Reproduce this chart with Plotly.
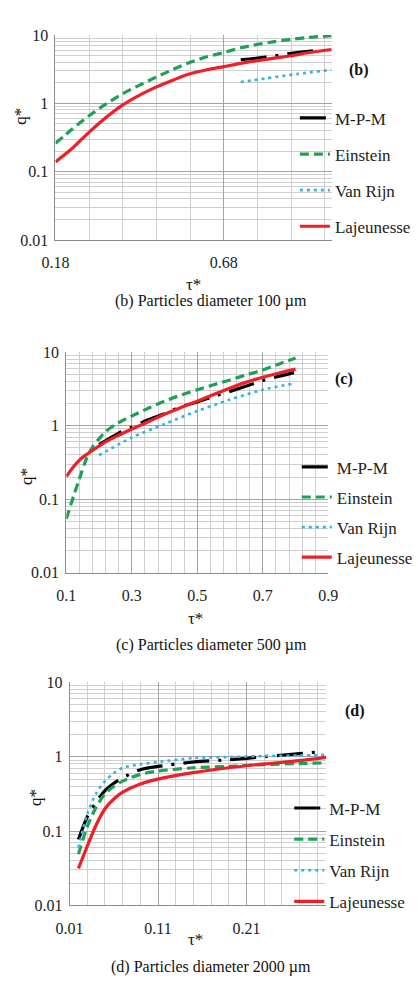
import plotly.graph_objects as go

# ---------------- data ----------------
# (b) 100 um
tau_b = [0.18, 0.23, 0.28, 0.33, 0.38, 0.43, 0.48, 0.53, 0.58, 0.63, 0.68, 0.73, 0.78, 0.83, 0.88, 0.93, 1.0]
ein_b = [0.26, 0.42, 0.66, 0.98, 1.39, 1.85, 2.43, 3.15, 4.0, 4.8, 5.56, 6.5, 7.3, 8.0, 8.66, 9.2, 9.8]
laj_b = [0.139, 0.22, 0.38, 0.62, 0.95, 1.32, 1.74, 2.2, 2.71, 3.1, 3.45, 3.85, 4.22, 4.6, 4.98, 5.5, 6.14]
tau_b_mpm = [0.73, 0.78, 0.83, 0.88, 0.93, 0.96]
mpm_b = [4.35, 4.6, 4.95, 5.4, 5.75, 5.95]
tau_b_vr = [0.73, 0.8, 0.9, 1.0]
vr_b = [2.05, 2.3, 2.7, 3.1]

# (c) 500 um
tau_c_ein = [0.1, 0.124, 0.14, 0.162, 0.18, 0.2, 0.22, 0.26, 0.3, 0.35, 0.4, 0.45, 0.5, 0.55, 0.6, 0.65, 0.7, 0.75, 0.8]
ein_c = [0.054, 0.116, 0.19, 0.36, 0.51, 0.66, 0.83, 1.1, 1.35, 1.72, 2.15, 2.6, 3.07, 3.6, 4.18, 4.9, 5.7, 6.9, 8.3]
tau_c_laj = [0.1, 0.12, 0.14, 0.16, 0.18, 0.22, 0.26, 0.3, 0.35, 0.4, 0.45, 0.5, 0.55, 0.6, 0.65, 0.7, 0.75, 0.8]
laj_c = [0.203, 0.27, 0.34, 0.4, 0.46, 0.6, 0.74, 0.9, 1.13, 1.43, 1.76, 2.15, 2.65, 3.24, 3.9, 4.55, 5.2, 5.86]
tau_c_mpm = [0.2, 0.26, 0.3, 0.35, 0.4, 0.45, 0.5, 0.55, 0.6, 0.65, 0.7, 0.75, 0.795]
mpm_c = [0.55, 0.79, 0.95, 1.2, 1.45, 1.8, 2.1, 2.5, 2.92, 3.45, 4.1, 4.7, 5.25]
tau_c_vr = [0.2, 0.3, 0.4, 0.5, 0.6, 0.7, 0.79]
vr_c = [0.395, 0.69, 1.05, 1.58, 2.26, 3.07, 3.7]

# (d) 2000 um
tau_d = [0.02, 0.03, 0.04, 0.05, 0.06, 0.07, 0.09, 0.11, 0.15, 0.19, 0.23, 0.27, 0.30]
laj_d = [0.0316, 0.063, 0.121, 0.2, 0.27, 0.333, 0.43, 0.5, 0.61, 0.71, 0.8, 0.885, 0.98]
ein_d = [0.049, 0.115, 0.21, 0.316, 0.4, 0.47, 0.58, 0.64, 0.71, 0.74, 0.785, 0.81, 0.826]
vr_d = [0.06, 0.17, 0.32, 0.47, 0.6, 0.71, 0.79, 0.85, 0.96, 0.99, 1.02, 1.04, 1.06]
tau_d_mpm = [0.02, 0.03, 0.04, 0.05, 0.06, 0.07, 0.09, 0.11, 0.15, 0.19, 0.23, 0.27, 0.295]
mpm_d = [0.077, 0.156, 0.245, 0.35, 0.44, 0.52, 0.67, 0.74, 0.85, 0.91, 1.0, 1.1, 1.17]

series_names = ["M-P-M", "Einstein", "Van Rijn", "Lajeunesse"]
y_tickvals = [0.01, 0.1, 1, 10]
y_ticktext = ["0.01", "0.1", "1", "10"]
captions = ["(b) Particles diameter 100 µm", "(c) Particles diameter 500 µm", "(d) Particles diameter 2000 µm"]
panel_tags = ["(b)", "(c)", "(d)"]

# ---------------- styles ----------------
FONT = "Liberation Serif"
W, H = 418, 1000
styles = {
    "M-P-M": dict(color="#000000", width=3.2, dash="26px,9px,3px,9px"),
    "Einstein": dict(color="#1FA155", width=3.2, dash="9px,5px"),
    "Van Rijn": dict(color="#35B3DA", width=2.6, dash="3px,4px"),
    "Lajeunesse": dict(color="#EE1F27", width=3.2, dash="solid"),
}

def px(v):
    return v / W

def py(v):
    return 1 - v / H

fig = go.Figure()

panels = [
    dict(ax="", legend="legend",
         data={"M-P-M": (tau_b_mpm, mpm_b), "Einstein": (tau_b, ein_b),
               "Van Rijn": (tau_b_vr, vr_b), "Lajeunesse": (tau_b, laj_b)}),
    dict(ax="2", legend="legend2",
         data={"M-P-M": (tau_c_mpm, mpm_c), "Einstein": (tau_c_ein, ein_c),
               "Van Rijn": (tau_c_vr, vr_c), "Lajeunesse": (tau_c_laj, laj_c)}),
    dict(ax="3", legend="legend3",
         data={"M-P-M": (tau_d_mpm, mpm_d), "Einstein": (tau_d, ein_d),
               "Van Rijn": (tau_d, vr_d), "Lajeunesse": (tau_d, laj_d)}),
]

for i, p in enumerate(panels):
    for name in series_names:
        xs, ys = p["data"][name]
        fig.add_trace(go.Scatter(
            x=xs, y=ys, mode="lines", name=name, line=dict(shape="spline", smoothing=0.8, **styles[name]),
            xaxis="x" + p["ax"], yaxis="y" + p["ax"], legend=p["legend"],
            legendgroup=f"{name}{i}", showlegend=True,
        ))

# plot area boxes (px): left, right, top, bottom
boxes = [(44, 337, 27.5, 236), (55.5, 333.5, 350, 574.5), (59, 331, 686, 913)]
xranges = [[0.18, 1.0], [0.1, 0.9], [0.01, 0.30]]
xmajor = [dict(tick0=0.18, dtick=0.5), dict(tick0=0.1, dtick=0.2), dict(tick0=0.01, dtick=0.1)]
xminor = [dict(tick0=0.18, dtick=0.1), dict(tick0=0.1, dtick=0.04), dict(tick0=0.01, dtick=0.02)]
xfmt = [".2f", ".1f", ".2f"]

MAJ = "#A3A3A3"
MIN = "#CFCFCF"
tickfont = dict(family=FONT, size=16, color="#222")

layout = dict(width=W, height=H, margin=dict(l=0, r=0, t=0, b=0),
              paper_bgcolor="white", plot_bgcolor="white", showlegend=True,
              font=dict(family=FONT, size=16, color="#222"))

for i, (l, r, t, b) in enumerate(boxes):
    sfx = "" if i == 0 else str(i + 1)
    layout["xaxis" + sfx] = dict(
        domain=[px(l), px(r)], range=xranges[i], anchor="y" + sfx,
        tickmode="linear", **xmajor[i], tickformat=xfmt[i],
        showgrid=True, gridcolor=MAJ, gridwidth=1,
        minor=dict(showgrid=True, gridcolor=MIN, gridwidth=1, ticks="", **xminor[i]),
        showline=True, linecolor="#8C8C8C", linewidth=1, mirror=False,
        ticks="", ticklabelstandoff=8, tickfont=tickfont, zeroline=False,
        fixedrange=True,
    )
    layout["yaxis" + sfx] = dict(
        domain=[py(b), py(t)], type="log", range=[-2, 1], anchor="x" + sfx,
        tickmode="array", tickvals=y_tickvals, ticktext=y_ticktext,
        showgrid=True, gridcolor=MAJ, gridwidth=1,
        minor=dict(showgrid=True, gridcolor=MIN, gridwidth=1, ticks="", dtick="D1"),
        showline=True, linecolor="#8C8C8C", linewidth=1,
        ticks="", ticklabelstandoff=3, tickfont=tickfont, zeroline=False,
        fixedrange=True,
    )

legend_pos = [(298, 94, 11), (300, 449, 5), (292, 796, 6)]
for i, (lx, ly, gap) in enumerate(legend_pos):
    key = "legend" if i == 0 else f"legend{i + 1}"
    layout[key] = dict(x=px(lx), y=py(ly), xanchor="left", yanchor="top",
                       bgcolor="rgba(0,0,0,0)", font=dict(family=FONT, size=17, color="#222"),
                       tracegroupgap=gap, itemwidth=30)

fig.update_layout(**layout)

# panel tags, axis titles and captions
tag_pos = [(366, 63), (350, 377), (362, 715)]
qtitle_pos = [(7, 110), (14, 477), (23, 803)]
ttitle_pos = [(190, 281), (193, 621), (193, 948)]
cap_pos = [(209, 298), (209, 648), (209, 976)]

def note(x, y, text, size, angle=0):
    fig.add_annotation(x=px(x), y=py(y), xref="paper", yref="paper", xanchor="center", yanchor="middle",
                       text=text, textangle=angle, showarrow=False,
                       font=dict(family=FONT, size=size, color="#111"))

for i in range(3):
    note(*tag_pos[i], "<b>" + panel_tags[i] + "</b>", 16)
    note(*qtitle_pos[i], "q*", 17, -90)
    note(*ttitle_pos[i], "τ*", 17)
    note(*cap_pos[i], captions[i], 16)

fig.write_html("out.html")
